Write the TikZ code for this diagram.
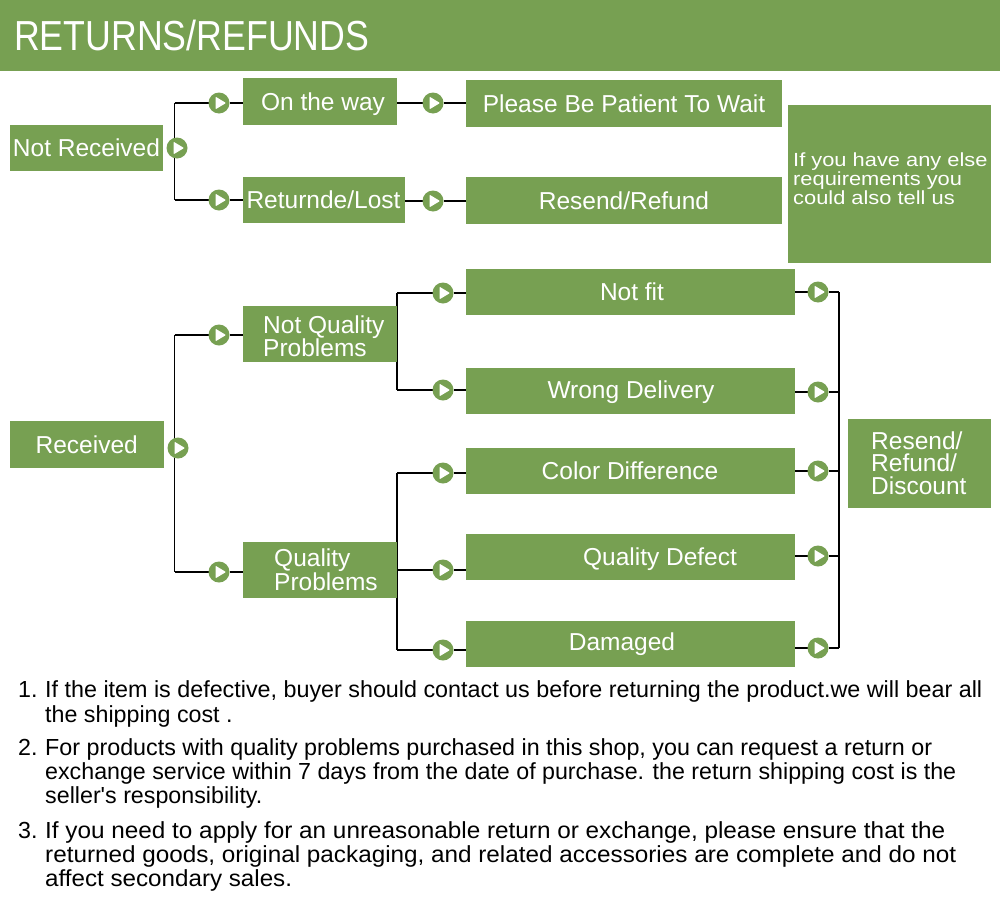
\documentclass[tikz,border=0pt]{standalone}
\usepackage{fontspec}
\usepackage{graphicx}
\setmainfont{Liberation Sans}
\newfontfamily\hdrfont[FakeStretch=0.85]{Liberation Sans}
\newfontfamily\infofont[FakeStretch=1.15]{Liberation Sans}
\usetikzlibrary{backgrounds}
\definecolor{grn}{RGB}{119,160,82}
\newcommand{\fitline}[2]{\resizebox{#1pt}{\height}{#2}}
\begin{document}
\begin{tikzpicture}[x=1pt,y=-1pt,
  box/.style={fill=grn, draw=none, inner sep=0pt, outer sep=0pt},
  btxt/.style={text=white, inner sep=0pt, anchor=base, font=\fontsize{24.5}{24.5}\selectfont},
  ltxt/.style={text=white, inner sep=0pt, anchor=base west, font=\fontsize{24.5}{24.5}\selectfont},
  itxt/.style={text=white, inner sep=0pt, anchor=base west, font=\infofont\fontsize{19}{19}\selectfont},
  list/.style={text=black, inner sep=0pt, anchor=base west, font=\fontsize{23.25}{23.25}\selectfont},
  cir/.style={circle, fill=grn, minimum size=21pt, inner sep=0pt, outer sep=0pt,
    path picture={\fill[white, rounded corners=0.8pt]
      ([shift={(-3.5,-6.3)}]path picture bounding box.center) -- ++(10.5,6.3) -- ++(-10.5,6.3) -- cycle;}},
  conn/.style={draw=black, line width=1.2pt}
]
\useasboundingbox (0,0) rectangle (1000,902);

% header
\node[box, minimum width=1000pt, minimum height=71pt] (hdr) at (500,35.5) {};
\node[text=white, inner sep=0pt, anchor=base west, font=\hdrfont\fontsize{42}{42}\selectfont] (hdrt) at (14,50) {RETURNS/REFUNDS};

% upper section boxes
\node[box, minimum width=153pt, minimum height=46pt] (nr) at (86.5,148) {};
\node[btxt] (nrt) at (86.5,156.6) {Not Received};
\node[box, minimum width=154pt, minimum height=47pt] (otw) at (320,101.5) {};
\node[btxt] (otwt) at (323,110) {On the way};
\node[box, minimum width=162pt, minimum height=46pt] (rl) at (324,200) {};
\node[btxt] (rlt) at (323.5,208.5) {Returnde/Lost};
\node[box, minimum width=316pt, minimum height=47pt] (pbp) at (624,103.5) {};
\node[btxt] (pbpt) at (624,112) {Please Be Patient To Wait};
\node[box, minimum width=316pt, minimum height=47pt] (rr) at (624,200.5) {};
\node[btxt] (rrt) at (624,209) {Resend/Refund};
\node[box, minimum width=203pt, minimum height=158pt] (info) at (889.5,184) {};
\node[itxt] (info1) at (793,166) {If you have any else};
\node[itxt] (info2) at (793,185) {requirements you};
\node[itxt] (info3) at (793,204) {could also tell us};

% lower section boxes
\node[box, minimum width=154pt, minimum height=47pt] (rec) at (87,444.5) {};
\node[btxt] (rect) at (86.7,453) {Received};
\node[box, minimum width=154pt, minimum height=56pt] (nqp) at (320,334) {};
\node[ltxt] (nqp1) at (263,333) {Not Quality};
\node[ltxt] (nqp2) at (263,356) {Problems};
\node[box, minimum width=154pt, minimum height=56pt] (qp) at (320,570) {};
\node[ltxt] (qp1) at (274,566) {Quality};
\node[ltxt] (qp2) at (274,590) {Problems};
\node[box, minimum width=329pt, minimum height=46pt] (nf) at (630.5,292) {};
\node[btxt] (nft) at (632,300) {Not fit};
\node[box, minimum width=329pt, minimum height=46pt] (wd) at (630.5,391) {};
\node[btxt] (wdt) at (631,398) {Wrong Delivery};
\node[box, minimum width=329pt, minimum height=46pt] (cd) at (630.5,471) {};
\node[btxt] (cdt) at (630,479.6) {Color Difference};
\node[box, minimum width=329pt, minimum height=46pt] (qd) at (630.5,557) {};
\node[btxt] (qdt) at (660,565.6) {Quality Defect};
\node[box, minimum width=329pt, minimum height=46pt] (dm) at (630.5,644) {};
\node[btxt] (dmt) at (622,650.6) {Damaged};
\node[box, minimum width=143pt, minimum height=89pt] (rrd) at (919.5,463.5) {};
\node[ltxt] (rrd1) at (871,449) {Resend/};
\node[ltxt] (rrd2) at (871,471.5) {Refund/};
\node[ltxt] (rrd3) at (871,494) {Discount};

% circles
\node[cir] (c1) at (177,148) {};
\node[cir] (c2) at (219,103) {};
\node[cir] (c3) at (219,200) {};
\node[cir] (c4) at (433,103) {};
\node[cir] (c5) at (433,201) {};
\node[cir] (c6) at (178,448) {};
\node[cir] (c7) at (219,335) {};
\node[cir] (c8) at (219,572) {};
\node[cir] (c9) at (443,293) {};
\node[cir] (c10) at (443,390) {};
\node[cir] (c11) at (443,473) {};
\node[cir] (c12) at (443,570) {};
\node[cir] (c13) at (443,650) {};
\node[cir] (c14) at (818,292) {};
\node[cir] (c15) at (818,392) {};
\node[cir] (c16) at (818,471) {};
\node[cir] (c17) at (818,556) {};
\node[cir] (c18) at (818,648) {};

% junction coordinates
\coordinate (j1a) at (174.5,103);
\coordinate (j1b) at (174.5,200);
\coordinate (j2a) at (174.5,335);
\coordinate (j2b) at (174.5,572);
\coordinate (j3a) at (397,293);
\coordinate (j3b) at (397,390);
\coordinate (j4a) at (397,473);
\coordinate (j4b) at (397,650);
\coordinate (j5a) at (839,292);
\coordinate (j5b) at (839,648);

\begin{scope}[on background layer]
\fill[white] (0,0) rectangle (1000,902);
\draw[conn] (j1a) -- (j1b);
\draw[conn] (j1a) -- (c2) -- (c2 -| otw.west);
\draw[conn] (j1b) -- (c3) -- (c3 -| rl.west);
\draw[conn] (c4 -| otw.east) -- (c4) -- (c4 -| pbp.west);
\draw[conn] (c5 -| rl.east) -- (c5) -- (c5 -| rr.west);
\draw[conn] (j2a) -- (j2b);
\draw[conn] (j2a) -- (c7) -- (c7 -| nqp.west);
\draw[conn] (j2b) -- (c8) -- (c8 -| qp.west);
\draw[conn] (j3a) -- (j3b);
\draw[conn] (j3a) -- (c9) -- (c9 -| nf.west);
\draw[conn] (j3b) -- (c10) -- (c10 -| wd.west);
\draw[conn] (j4a) -- (j4b);
\draw[conn] (j4a) -- (c11) -- (c11 -| cd.west);
\draw[conn] (c12 -| qp.east) -- (c12) -- (c12 -| qd.west);
\draw[conn] (j4b) -- (c13) -- (c13 -| dm.west);
\draw[conn] (j5a) -- (j5b);
\draw[conn] (c14 -| nf.east) -- (c14) -- (j5a);
\draw[conn] (c15 -| wd.east) -- (c15) -- (c15 -| j5a);
\draw[conn] (c16 -| cd.east) -- (c16) -- (c16 -| j5a);
\draw[conn] (c17 -| qd.east) -- (c17) -- (c17 -| j5a);
\draw[conn] (c18 -| dm.east) -- (c18) -- (j5b);
\end{scope}

% notes
\node[list] (n1) at (18,697) {1.};
\node[list] (l1a) at (45,697) {\fitline{937}{If the item is defective, buyer should contact us before returning the product.we will bear all}};
\node[list] (l1b) at (45,722) {the shipping cost .};
\node[list] (n2) at (18,755) {2.};
\node[list] (l2a) at (45,755) {\fitline{887}{For products with quality problems purchased in this shop, you can request a return or}};
\node[list] (l2b) at (45,779) {\fitline{911}{exchange service within 7 days from the date of purchase. the return shipping cost is the}};
\node[list] (l2c) at (45,803) {seller\textquotesingle s responsibility.};
\node[list] (n3) at (18,838) {3.};
\node[list] (l3a) at (45,838) {\fitline{900}{If you need to apply for an unreasonable return or exchange, please ensure that the}};
\node[list] (l3b) at (45,862) {\fitline{911}{returned goods, original packaging, and related accessories are complete and do not}};
\node[list] (l3c) at (45,886) {\scalebox{1.04}[1]{affect secondary sales.}};
\end{tikzpicture}
\end{document}
